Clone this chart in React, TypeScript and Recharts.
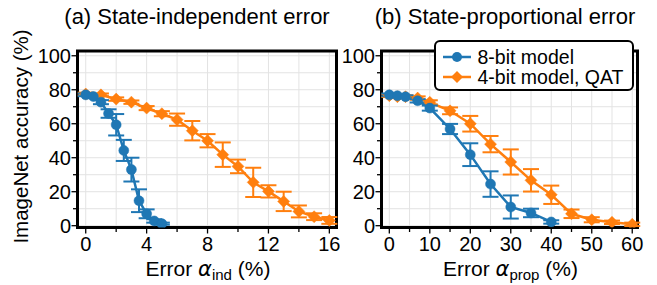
import React from 'react';
import { LineChart, Line, XAxis, YAxis, CartesianGrid, ErrorBar, ReferenceArea } from 'recharts';

const BLUE = '#1f77b4';
const ORANGE = '#ff7f0e';
const FONT = '"Liberation Sans", Arial, Helvetica, sans-serif';

// ---------- Panel (a): state-independent error ----------
const indX8 = [0, 0.5, 1, 1.5, 2, 2.5, 3, 3.5, 4, 4.5, 5];
const indAcc8 = [77, 76, 72.7, 66, 59.4, 44.3, 33, 14.7, 7, 2.8, 1.2];
const indErr8 = [0.8, 0.8, 1.2, 2.5, 6.3, 6.2, 7, 6.7, 2.6, 1, 0.6];

const indX4 = [0, 1, 2, 3, 4, 5, 6, 7, 8, 9, 10, 11, 12, 13, 14, 15, 16];
const indAcc4 = [77.5, 77, 74.5, 72.7, 69.2, 65.9, 62.4, 55.9, 50, 41.8, 34.9, 25.5, 20.2, 14.3, 8.4, 5.3, 3.1];
const indErr4 = [0.8, 0.8, 1, 1, 1.2, 1.5, 3.6, 5.7, 3.9, 7.2, 4, 8.6, 3.6, 5.7, 3.5, 2, 2];

// ---------- Panel (b): state-proportional error ----------
const propX8 = [0, 2, 4, 7, 10, 15, 20, 25, 30, 35, 40];
const propAcc8 = [77, 76.5, 75.9, 73.5, 69.2, 56.9, 41.8, 24.5, 11, 7.5, 2.2];
const propErr8 = [0.8, 0.8, 0.8, 1, 1.5, 3, 6.7, 7.5, 6.8, 2.5, 1];

const propX4 = [0, 2, 4, 7, 10, 15, 20, 25, 30, 35, 40, 45, 50, 55, 60];
const propAcc4 = [76.5, 75.9, 75.9, 75.1, 72.6, 67.6, 60, 48, 37.5, 26.7, 18.2, 7, 3.5, 2, 0.8];
const propErr4 = [0.8, 0.8, 0.8, 1, 1.2, 2, 4.6, 4.8, 7.4, 6.6, 5.4, 2.5, 1.5, 1, 1];

// ---------- Ticks ----------
const indTicks = [0, 2, 4, 6, 8, 10, 12, 14, 16];
const indMajor = [0, 4, 8, 12, 16];
const propTicks = [0, 5, 10, 15, 20, 25, 30, 35, 40, 45, 50, 55, 60];
const propMajor = [0, 10, 20, 30, 40, 50, 60];
const accTicks = [0, 10, 20, 30, 40, 50, 60, 70, 80, 90, 100];
const accMajor = [0, 20, 40, 60, 80, 100];

const titles = ['(a) State-independent error', '(b) State-proportional error'];
const seriesNames = ['8-bit model', '4-bit model, QAT'];

const build = (xs: number[], ys: number[], es: number[]) =>
  xs.map((x, i) => ({ x, acc: ys[i], err: es[i] }));

const Diamond = (props: any) => {
  const { cx, cy } = props;
  if (cx == null || cy == null) return null;
  const h = 6;
  return (
    <polygon
      points={`${cx},${cy - h} ${cx + h},${cy} ${cx},${cy + h} ${cx - h},${cy}`}
      fill={ORANGE}
      stroke={ORANGE}
      strokeWidth={0.5}
    />
  );
};

const makeXTick = (majors: number[]) => (props: any) => {
  const { x, y, payload } = props;
  const v = payload.value;
  const major = majors.includes(v);
  return (
    <g>
      <line x1={x} x2={x} y1={y} y2={y + (major ? 6 : 4.5)} stroke="#000" strokeWidth={1.3} />
      {major && (
        <text x={x} y={y + 23.5} textAnchor="middle" fontSize={20} fill="#000" fontFamily={FONT}>
          {v}
        </text>
      )}
    </g>
  );
};

const makeYTick = (majors: number[]) => (props: any) => {
  const { x, y, payload } = props;
  const v = payload.value;
  const major = majors.includes(v);
  return (
    <g>
      <line x1={x} x2={x - (major ? 6 : 4.5)} y1={y} y2={y} stroke="#000" strokeWidth={1.3} />
      {major && (
        <text x={x - 6.5} y={y + 7.2} textAnchor="end" fontSize={20} fill="#000" fontFamily={FONT}>
          {v}
        </text>
      )}
    </g>
  );
};

const XLabel = (sub: string) => (props: any) => {
  const vb = props.viewBox || {};
  const cx = vb.x + vb.width / 2 + 1;
  const y = vb.y + 48.5;
  return (
    <text x={cx} y={y} textAnchor="middle" fontSize={21} fill="#000" fontFamily={FONT}>
      Error{' '}
      <tspan fontStyle="italic" fontFamily='"DejaVu Sans", sans-serif'>α</tspan>
      <tspan fontSize={15} dy={4}>{sub}</tspan>
      <tspan dy={-4}> (%)</tspan>
    </text>
  );
};

const YLabel = (props: any) => {
  const vb = props.viewBox || {};
  const x = vb.x + 10;
  const y = 136.5;
  return (
    <text
      x={x}
      y={y}
      transform={`rotate(-90, ${x}, ${y})`}
      textAnchor="middle"
      fontSize={20.5}
      fill="#000"
      fontFamily={FONT}
    >
      ImageNet accuracy (%)
    </text>
  );
};

const Y_DOMAIN: [number, number] = [-1.06, 102.8];

type PanelProps = {
  width: number;
  margin: { top: number; right: number; bottom: number; left: number };
  yAxisWidth: number;
  xDomain: [number, number];
  xTicks: number[];
  xMajor: number[];
  sub: string;
  s8: { x: number; acc: number; err: number }[];
  s4: { x: number; acc: number; err: number }[];
  showYLabel: boolean;
};

const Panel = (p: PanelProps) => (
  <LineChart width={p.width} height={285} margin={p.margin}>
    <CartesianGrid stroke="#e3e3e3" strokeWidth={1} />
    <XAxis
      type="number"
      dataKey="x"
      domain={p.xDomain}
      ticks={p.xTicks}
      interval={0}
      allowDataOverflow
      axisLine={false}
      tickLine={false}
      tickSize={0}
      tickMargin={0}
      height={40}
      tick={makeXTick(p.xMajor)}
      label={{ content: XLabel(p.sub) } as any}
    />
    <YAxis
      type="number"
      domain={Y_DOMAIN}
      ticks={accTicks}
      interval={0}
      allowDataOverflow
      axisLine={false}
      tickLine={false}
      tickSize={0}
      tickMargin={0}
      width={p.yAxisWidth}
      tick={makeYTick(accMajor)}
      label={p.showYLabel ? ({ content: YLabel } as any) : undefined}
    />
    <Line
      data={p.s4}
      dataKey="acc"
      stroke={ORANGE}
      strokeWidth={2.5}
      dot={<Diamond />}
      isAnimationActive={false}
    >
      <ErrorBar dataKey="err" direction="y" width={8} stroke={ORANGE} strokeWidth={2} />
    </Line>
    <Line
      data={p.s8}
      dataKey="acc"
      stroke={BLUE}
      strokeWidth={2.5}
      dot={{ r: 5, fill: BLUE, stroke: BLUE, strokeWidth: 0.5 }}
      isAnimationActive={false}
    >
      <ErrorBar dataKey="err" direction="y" width={8} stroke={BLUE} strokeWidth={2} />
    </Line>
    <ReferenceArea
      x1={p.xDomain[0]}
      x2={p.xDomain[1]}
      y1={Y_DOMAIN[0]}
      y2={Y_DOMAIN[1]}
      fill="none"
      fillOpacity={0}
      stroke="#000"
      strokeWidth={3}
      ifOverflow="visible"
    />
  </LineChart>
);

const LegendRow = ({ color, diamond, label }: { color: string; diamond: boolean; label: string }) => (
  <div style={{ display: 'flex', alignItems: 'center', height: 20 }}>
    <svg width={28} height={16} style={{ marginLeft: 6.5, overflow: 'visible' }}>
      <line x1={0} x2={28} y1={8} y2={8} stroke={color} strokeWidth={2.5} />
      {diamond ? (
        <polygon points="14,2 20,8 14,14 8,8" fill={color} />
      ) : (
        <circle cx={14} cy={8} r={5} fill={color} />
      )}
    </svg>
    <span style={{ marginLeft: 7, fontSize: 19.5, lineHeight: '20px', color: '#000', whiteSpace: 'nowrap' }}>{label}</span>
  </div>
);

export default function App() {
  return (
    <div style={{ position: 'absolute', left: 0, top: 0, width: 657, height: 285, background: '#fff', fontFamily: FONT }}>
      <div style={{ position: 'absolute', left: 0, top: 0 }}>
        <Panel
          width={340}
          margin={{ top: 51, right: 3.5, bottom: 17.5, left: 17.5 }}
          yAxisWidth={60}
          xDomain={[-0.54, 16.47]}
          xTicks={indTicks}
          xMajor={indMajor}
          sub="ind"
          s8={build(indX8, indAcc8, indErr8)}
          s4={build(indX4, indAcc4, indErr4)}
          showYLabel
        />
      </div>
      <div style={{ position: 'absolute', left: 340, top: 0 }}>
        <Panel
          width={317}
          margin={{ top: 51, right: 19.5, bottom: 17.5, left: 1.5 }}
          yAxisWidth={40}
          xDomain={[-1.93, 61.3]}
          xTicks={propTicks}
          xMajor={propMajor}
          sub="prop"
          s8={build(propX8, propAcc8, propErr8)}
          s4={build(propX4, propAcc4, propErr4)}
          showYLabel={false}
        />
      </div>
      <div style={{ position: 'absolute', left: 37, top: 4, width: 320, textAlign: 'center', fontSize: 22, lineHeight: '26px', color: '#000', whiteSpace: 'nowrap' }}>
        {titles[0]}
      </div>
      <div style={{ position: 'absolute', left: 345, top: 4, width: 320, textAlign: 'center', fontSize: 22, lineHeight: '26px', color: '#000', whiteSpace: 'nowrap' }}>
        {titles[1]}
      </div>
      <div
        style={{
          position: 'absolute',
          left: 434,
          top: 40,
          width: 200,
          height: 51,
          boxSizing: 'border-box',
          border: '2px solid #000',
          borderRadius: 6,
          background: '#fff',
          paddingTop: 4.5,
        }}
      >
        <LegendRow color={BLUE} diamond={false} label={seriesNames[0]} />
        <LegendRow color={ORANGE} diamond label={seriesNames[1]} />
      </div>
    </div>
  );
}
